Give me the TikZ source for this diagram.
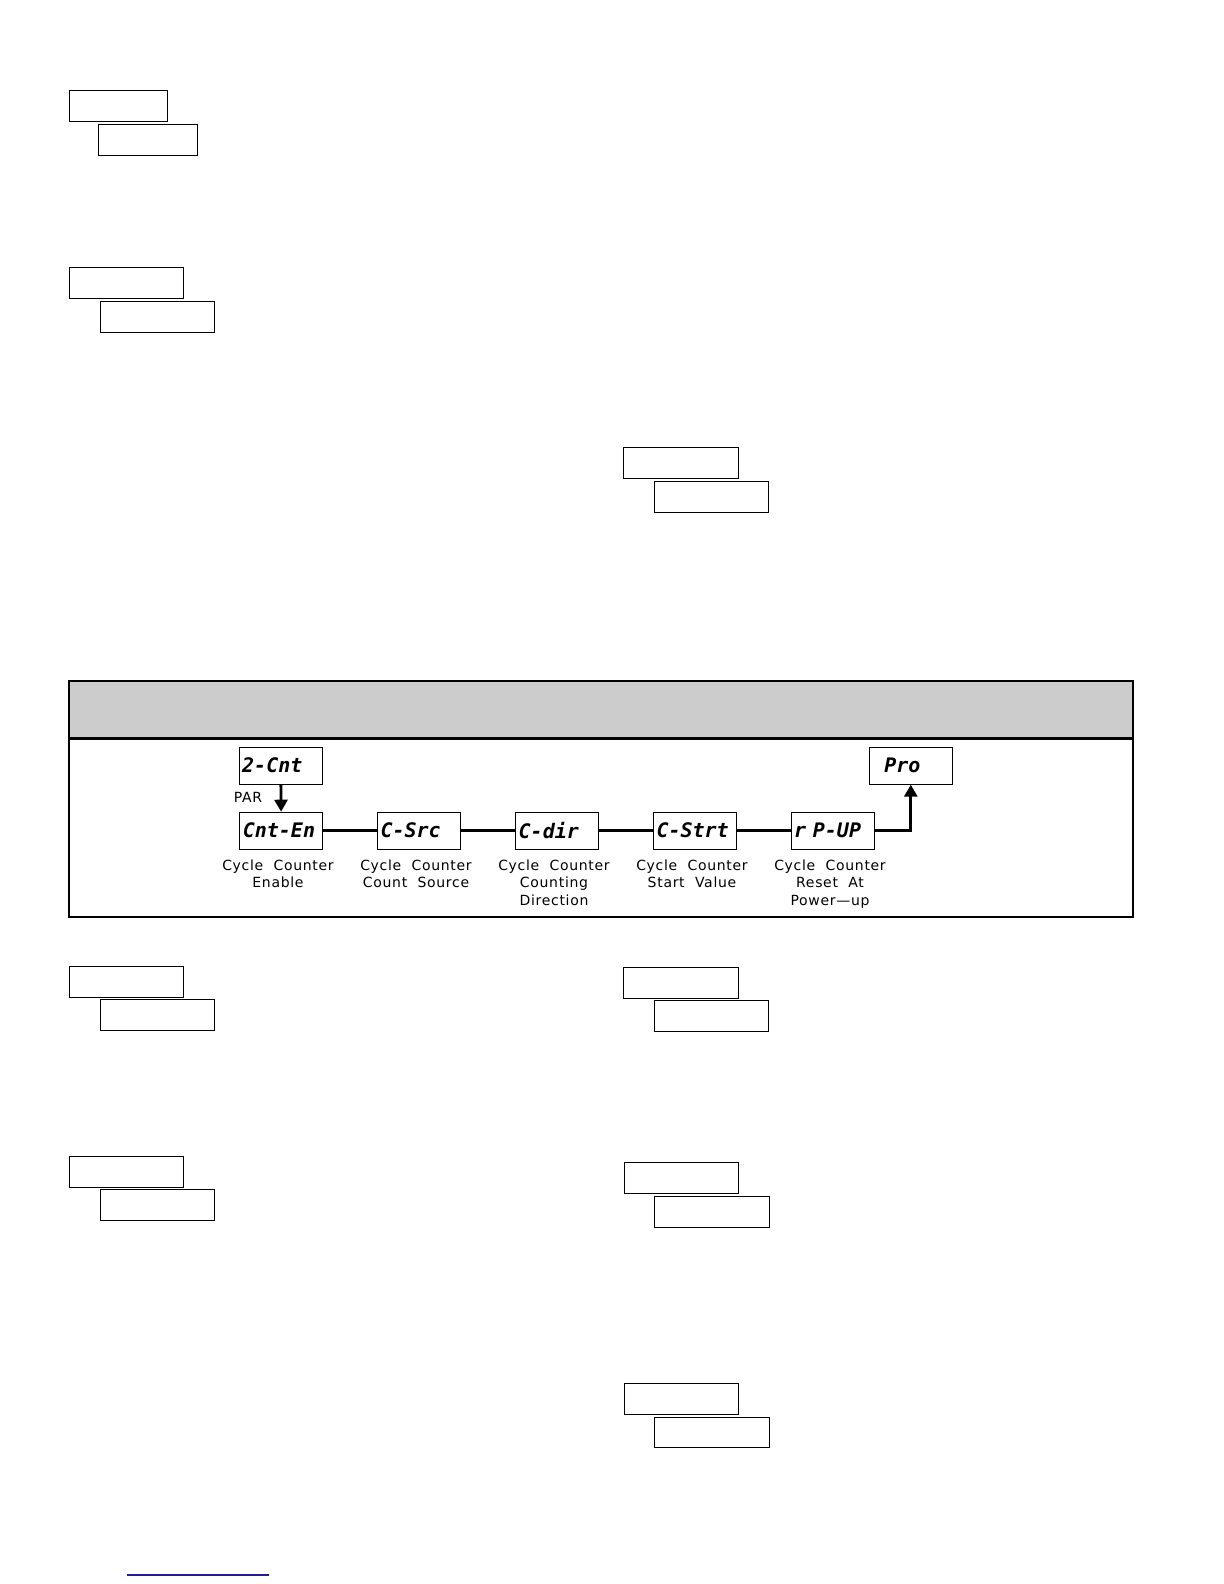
\documentclass[tikz,border=0pt]{standalone}
\usepackage{fontspec}
\setsansfont{DejaVu Sans}
\newfontfamily\segfont{DejaVu Sans Mono}
\newfontfamily\lblfont{DejaVu Sans}[LetterSpace=5]
\usetikzlibrary{arrows.meta}
\definecolor{hdrgray}{RGB}{204,204,204}
\definecolor{linkblue}{RGB}{30,30,150}
\tikzset{
	disp/.style={draw, line width=0.5pt, text width=38.5pt, inner xsep=1.5pt, inner ysep=0pt,
		minimum height=18.5pt, align=left, font=\segfont\bfseries\itshape\fontsize{10}{10}\selectfont},
	lbl/.style={font=\lblfont\fontsize{7}{8.9}\selectfont, align=center, anchor=north, inner sep=0pt},
	flow/.style={line width=1.4pt},
	tip/.style={-{Triangle[width=6.5pt,length=6pt]}},
	hdrbox/.style={line width=0.7pt}
}

\begin{document}
\begin{tikzpicture}[x=0.5pt, y=-0.5pt]
	\useasboundingbox (0,0) rectangle (1224,1584);

	\draw[hdrbox] (69.3,90.3) rectangle (167.3,121.3);
	\draw[hdrbox] (98.3,124.3) rectangle (197.3,155.3);
	\draw[hdrbox] (69.3,267.3) rectangle (183.7,298.3);
	\draw[hdrbox] (100.3,301.3) rectangle (214.7,332.3);
	\draw[hdrbox] (623.3,447.3) rectangle (738.3,478.3);
	\draw[hdrbox] (654.3,481.3) rectangle (768.3,512.3);
	\draw[hdrbox] (69.3,966.3) rectangle (183.7,997.3);
	\draw[hdrbox] (100.3,999.3) rectangle (214.7,1030.3);
	\draw[hdrbox] (69.3,1156.3) rectangle (183.7,1187.3);
	\draw[hdrbox] (100.3,1189.3) rectangle (214.7,1220.3);
	\draw[hdrbox] (623.3,967.3) rectangle (738.3,998.3);
	\draw[hdrbox] (654.3,1000.3) rectangle (768.3,1031.3);
	\draw[hdrbox] (624.3,1162.3) rectangle (738.3,1193.3);
	\draw[hdrbox] (654.3,1196.3) rectangle (769.3,1227.3);
	\draw[hdrbox] (624.3,1383.3) rectangle (738.3,1414.3);
	\draw[hdrbox] (654.3,1417.3) rectangle (769.3,1447.3);

	\fill[hdrgray] (68.7,680.7) rectangle (1133,738.3);
	\draw[line width=1.2pt] (68.7,680.7) rectangle (1133,917);
	\draw[line width=1.2pt] (68.7,738.3) -- (1133,738.3);

	\node[disp] (cnt) at (280.7,765.7) {2-Cnt};
	\node[disp] (pro) at (910.8,765.7) {\hspace{6pt}Pro};
	\node[disp] (en) at (281.3,830.7) {Cnt-En};
	\node[disp] (src) at (419,830.7) {C-Src};
	\node[disp] (dir) at (557.2,830.7) {C-dir};
	\node[disp] (strt) at (695,830.7) {C-Strt};
	\node[disp] (pup) at (832.7,830.7) {r P-UP};
	\node[font=\lblfont\fontsize{7}{8.9}\selectfont, inner sep=0pt] (par) at (248,797.7) {PAR};

	\node[lbl] (len) at (278,859) {Cycle~~Counter\\Enable};
	\node[lbl] (lsrc) at (416,859) {Cycle~~Counter\\Count~~Source};
	\node[lbl] (ldir) at (554,859) {Cycle~~Counter\\Counting\\Direction};
	\node[lbl] (lstrt) at (692,859) {Cycle~~Counter\\Start~~Value};
	\node[lbl] (lpup) at (830,859) {Cycle~~Counter\\Reset~~At\\Power—up};

	\draw [flow,tip] (cnt) -- (en);
	\draw [flow] (en) -- (src);
	\draw [flow] (src) -- (dir);
	\draw [flow] (dir) -- (strt);
	\draw [flow] (strt) -- (pup);
	\draw [flow,tip] (pup.east) -| (pro.south);

	\draw[linkblue, line width=1pt] (126.7,1575) -- (269,1575);
\end{tikzpicture}
\end{document}
